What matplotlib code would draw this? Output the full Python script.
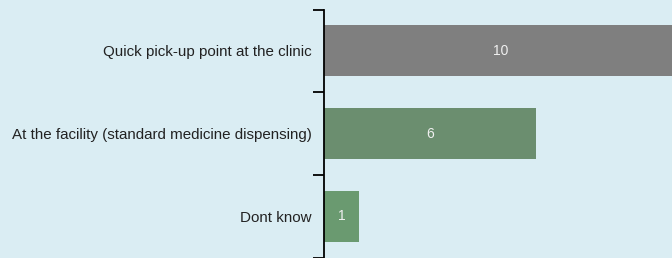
import matplotlib.pyplot as plt

categories = ['Quick pick-up point at the clinic',
              'At the facility (standard medicine dispensing)',
              'Dont know']
counts = [10, 6, 1]
colors = ['#7f7f7f', '#6b8e6f', '#6a9a70']
bg = '#daedf3'

plt.rcParams['font.family'] = ['Liberation Sans', 'DejaVu Sans']

fig = plt.figure(figsize=(6.72, 2.58), dpi=100, facecolor=bg)
ax = fig.add_axes([324 / 672, 0.5 / 258, 348 / 672, 248 / 258])
ax.set_facecolor(bg)

pos = list(range(len(categories)))
bars = ax.barh(pos, counts, height=0.62, color=colors)
for b, v in zip(bars, counts):
    ax.text(b.get_width() / 2, b.get_y() + b.get_height() / 2, str(v),
            ha='center', va='center', color='#f0f0f0', fontsize=10)

ax.set_xlim(0, 9.86)
ax.set_ylim(len(categories) - 0.5, -0.5)
ax.set_yticks(pos)
ax.set_yticklabels(categories, fontsize=10.9, color='#222222')
ax.set_yticks([-0.5, 0.5, 1.5, 2.5], minor=True)
ax.tick_params(axis='y', which='major', length=0, pad=9)
ax.tick_params(axis='y', which='minor', length=8, width=1.3, color='black')
ax.set_xticks([])
for s in ['top', 'right', 'bottom']:
    ax.spines[s].set_visible(False)
ax.spines['left'].set_linewidth(1.3)

fig.savefig('out.png', dpi=100, facecolor=bg)
